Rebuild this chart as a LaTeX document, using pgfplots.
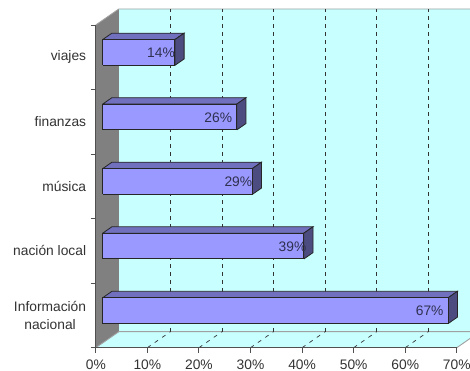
\documentclass[border=0pt]{standalone}
\usepackage{pgfplots}
\pgfplotsset{compat=1.18}
\usepackage{fontspec}
\setmainfont{Liberation Sans}
\definecolor{wall}{HTML}{C8FFFF}
\definecolor{sidewall}{HTML}{808080}
\definecolor{barfront}{HTML}{9999FF}
\definecolor{bartop}{HTML}{7070BE}
\definecolor{barside}{HTML}{4C4C80}
\definecolor{edgegray}{HTML}{A0A0A0}
\definecolor{axisgray}{HTML}{505050}
\definecolor{labelgray}{HTML}{303050}
\definecolor{textgray}{HTML}{333333}

% One 3D bar: value, lower and upper height on the category scale
\newcommand{\solidbar}[3]{%
  \addplot3[fill=bartop,draw=black!85,line width=0.8pt,mark=none] coordinates
    {(0,0.3,#3) (#1,0.3,#3) (#1,0.7,#3) (0,0.7,#3) (0,0.3,#3)};
  \addplot3[fill=barside,draw=black!85,line width=0.8pt,mark=none] coordinates
    {(#1,0.3,#2) (#1,0.7,#2) (#1,0.7,#3) (#1,0.3,#3) (#1,0.3,#2)};
  \addplot3[fill=barfront,draw=black!85,line width=1pt,mark=none] coordinates
    {(0,0.3,#2) (#1,0.3,#2) (#1,0.3,#3) (0,0.3,#3) (0,0.3,#2)};
}
% Depth grid lines for one percentage: along the floor, then up the back wall
\newcommand{\depthgrid}[1]{%
  \addplot3[black!80,line width=0.8pt,dash pattern=on 4pt off 4pt,mark=none] coordinates
    {(#1,1,0) (#1,1,5)};
  \addplot3[black!80,line width=0.7pt,dash pattern=on 4pt off 5pt,mark=none] coordinates
    {(#1,0,0) (#1,1,0)};
}

\begin{document}
\begin{tikzpicture}[x=1pt,y=1pt]
\clip (0,0) rectangle (470,371);
\fill[white] (0,0) rectangle (470,371);
\begin{axis}[
  at={(95.8pt,23.3pt)},anchor=origin,
  x={(5.157pt,0pt)},y={(23pt,16pt)},z={(0pt,64.54pt)},
  xmin=0,xmax=70,ymin=0,ymax=1,zmin=0,zmax=5,
  hide axis,clip=false,
]
  % walls and floor
  \addplot3[fill=wall,draw=none,mark=none] coordinates
    {(0,1,0) (70,1,0) (70,1,5) (0,1,5) (0,1,0)};
  \addplot3[fill=wall,draw=none,mark=none] coordinates
    {(0,0,0) (70,0,0) (70,1,0) (0,1,0) (0,0,0)};
  \addplot3[fill=sidewall,draw=none,mark=none] coordinates
    {(0,0,0) (0,1,0) (0,1,5) (0,0,5) (0,0,0)};
  \addplot3[edgegray,line width=0.9pt,mark=none] coordinates {(0,0,5) (0,1,5) (70,1,5)};
  \addplot3[edgegray,line width=0.9pt,mark=none] coordinates {(0,0,0) (0,1,0) (70,1,0)};
  \addplot3[edgegray,line width=0.9pt,mark=none] coordinates {(70,0,0) (70,1,0)};
  \depthgrid{10}\depthgrid{20}\depthgrid{30}\depthgrid{40}\depthgrid{50}\depthgrid{60}
  % bars, bottom category first
  \solidbar{67}{0.3}{0.7}
  \solidbar{39}{1.3}{1.7}
  \solidbar{29}{2.3}{2.7}
  \solidbar{26}{3.3}{3.7}
  \solidbar{14}{4.3}{4.7}
  % value labels on the front faces
  \begin{scope}[every node/.style={font=\fontsize{13.8}{14}\selectfont,text=labelgray,inner sep=0pt,yshift=-0.5pt}]
    \node at (axis cs:63.4,0.3,0.5) {67\%};
    \node at (axis cs:36.8,0.3,1.5) {39\%};
    \node at (axis cs:26.3,0.3,2.5) {29\%};
    \node at (axis cs:22.4,0.3,3.5) {26\%};
    \node at (axis cs:11.3,0.3,4.5) {14\%};
  \end{scope}
\end{axis}
% front axes with ticks and labels
\begin{axis}[
  at={(95.8pt,23.3pt)},anchor=origin,
  x=5.157pt,y=64.54pt,
  xmin=0,xmax=70,ymin=0,ymax=5,
  axis x line=bottom,axis y line=left,
  axis line style={-,axisgray,line width=0.9pt},
  xtick={0,10,...,70},
  xticklabel={\pgfmathprintnumber{\tick}\%},
  ytick={0.5,1.5,2.5,3.5,4.5},
  yticklabels={{Información\\[1pt]nacional},{\raisebox{-1pt}{nación local}},música,finanzas,{\raisebox{-1.5pt}{viajes}}},
  minor ytick={0,1,2,3,4,5},
  tick style={axisgray,line width=0.9pt},
  xtick align=outside,ytick align=outside,
  major tick length=5pt,minor tick length=5pt,
  tick label style={font=\fontsize{13.8}{17.5}\selectfont,text=textgray},
  /pgf/number format/assume math mode=true,
  yticklabel style={align=center,inner sep=0pt,xshift=-4.5pt},
  xticklabel style={inner sep=0pt,yshift=-7pt},
  major y tick style={draw=none},
]
\end{axis}
\end{tikzpicture}
\end{document}
